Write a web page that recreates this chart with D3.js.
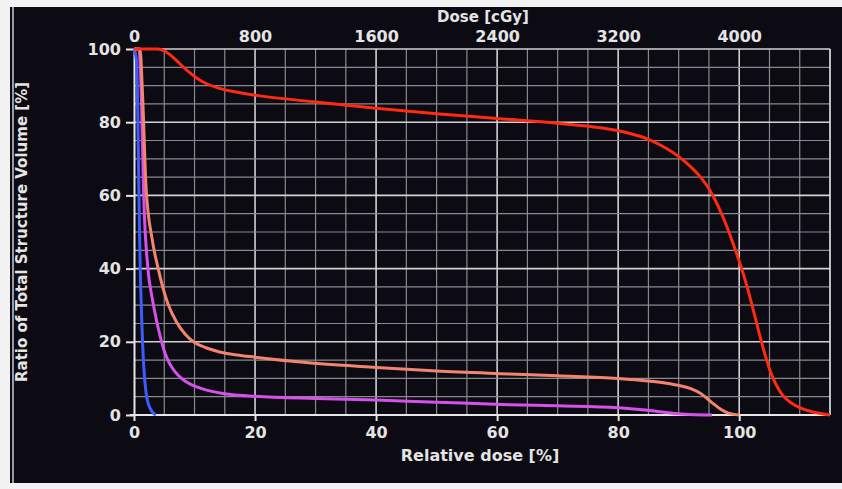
<!DOCTYPE html>
<html>
<head>
    <meta charset='utf-8'>
    <title>DVH</title>
    <script src='https://d3js.org/d3.v7.min.js'></script>
    <style>
        body { margin: 0; background: #f2f2f2; }
        text { font-family: 'DejaVu Sans', sans-serif; }
    </style>
</head>
<body>
    <script>
        // tick labels
        const relTicks = [0, 20, 40, 60, 80, 100];
        const doseTicks = [0, 800, 1600, 2400, 3200, 4000];
        const volTicks = [0, 20, 40, 60, 80, 100];

        // curves: [relative dose %, volume %]
        const redCurve = [[0, 100], [4, 100], [5, 99.5], [6, 98.4], [7, 96.9], [8, 95.3], [9, 93.8], [10, 92.5],
            [11, 91.4], [12, 90.5], [14, 89.3], [16, 88.5], [20, 87.4],
            [30, 85.5], [40, 83.8], [50, 82.3], [60, 81], [70, 79.7], [77, 78.5], [81, 77.3], [85, 75.3],
            [88, 72.8], [90, 70.6], [92, 67.8], [93.7, 64.8], [95, 61.8], [96, 58.8], [97, 55.3], [98, 51.3],
            [99, 46.8], [100, 42], [101, 36.8], [102, 30.8], [103, 24.3], [104, 18], [105, 12.6], [106, 8.6],
            [107, 5.8], [108.5, 3.4], [110, 2], [112, 0.9], [113.5, 0.4], [115, 0]];
        const salmonCurve = [[0, 100], [1, 100], [1.4, 88], [2, 62], [3, 48], [4, 40], [5, 33.5], [5.7, 30],
            [7, 25.5], [8.5, 22], [10, 19.8], [12, 18.3], [14, 17.3], [17, 16.4], [20, 15.8], [28, 14.4],
            [40, 13], [50, 12], [62, 11.2], [70, 10.7], [80, 10], [85, 9.3], [88, 8.7], [90, 8.1], [92, 7.2],
            [93.5, 6], [94.7, 4.5], [95.7, 3.1], [97, 1.5], [98.2, 0.5], [100, 0]];
        const magentaCurve = [[0, 100], [0.8, 100], [1.2, 88], [1.6, 60], [2.3, 40], [3, 32], [3.7, 26],
            [4.4, 21], [5.1, 17], [5.9, 14], [6.8, 11.8], [7.8, 10.1], [9, 8.7], [10.5, 7.6], [12, 6.8],
            [14, 6.1], [16, 5.6], [20, 5.1], [30, 4.5], [40, 4.1],
            [50, 3.5], [62, 2.8], [70, 2.5], [80, 2], [83, 1.6], [86, 1.1], [89, 0.5], [92, 0.15], [95.5, 0]];
        const blueCurve = [[0, 100], [0.4, 97], [0.6, 85], [0.8, 62], [1.0, 42], [1.3, 25], [1.6, 13.5],
            [2.0, 6], [2.6, 2], [3.6, 0]];

        const width = 842, height = 489;
        const margin = { left: 134, top: 49 };
        const plotW = 696, plotH = 366;

        const svg = d3.select('body')
            .append('svg')
            .attr('width', width)
            .attr('height', height)
            .style('display', 'block');

        // photo frame + dark screen
        svg.append('rect').attr('width', width).attr('height', height).attr('fill', '#f2f2f2');
        svg.append('rect')
            .attr('x', 10).attr('y', 7)
            .attr('width', width - 10).attr('height', 476)
            .attr('fill', '#0c0a12');
        svg.append('line')
            .attr('x1', 13).attr('x2', 13).attr('y1', 7).attr('y2', 483)
            .attr('stroke', '#9a9aa0').attr('stroke-width', 2);

        const x = d3.scaleLinear().domain([0, 115]).range([margin.left, margin.left + plotW]);
        const y = d3.scaleLinear().domain([0, 100]).range([margin.top + plotH, margin.top]);
        // dose axis: 4000 cGy = 100 %
        const xDose = d3.scaleLinear().domain([0, 4600]).range(x.range());

        const grid = svg.append('g');
        // grid every 5, brighter every 20
        grid.selectAll('.vgrid')
            .data(d3.range(5, 116, 5))
            .enter()
            .append('line')
            .attr('x1', d => x(d)).attr('x2', d => x(d))
            .attr('y1', y(0)).attr('y2', y(100))
            .attr('stroke', d => d % 20 === 0 ? '#d2d2d2' : '#8a8a8e')
            .attr('stroke-width', d => d % 20 === 0 ? 1.6 : 1.2);
        grid.selectAll('.hgrid')
            .data(d3.range(5, 101, 5))
            .enter()
            .append('line')
            .attr('x1', x(0)).attr('x2', x(115))
            .attr('y1', d => y(d)).attr('y2', d => y(d))
            .attr('stroke', d => d % 20 === 0 ? '#d2d2d2' : '#8a8a8e')
            .attr('stroke-width', d => d % 20 === 0 ? 1.6 : 1.2);
        // right frame
        grid.append('line')
            .attr('x1', x(115)).attr('x2', x(115)).attr('y1', y(0)).attr('y2', y(100))
            .attr('stroke', '#d8d8d8').attr('stroke-width', 1.6);

        // axes
        const styleAxis = function (g) {
            g.select('.domain').attr('stroke', '#e6e6e6').attr('stroke-width', 2);
            g.selectAll('.tick line').attr('stroke', '#e6e6e6').attr('stroke-width', 2);
            g.selectAll('.tick text')
                .attr('fill', '#e4e4e4')
                .attr('font-size', '16px')
                .attr('font-weight', 'bold')
                .attr('font-family', 'DejaVu Sans, sans-serif');
        };

        svg.append('g')
            .attr('transform', 'translate(' + x(0) + ',0)')
            .call(d3.axisLeft(y).tickValues(volTicks).tickSize(8).tickSizeOuter(0).tickPadding(5))
            .call(styleAxis);

        svg.append('g')
            .attr('transform', 'translate(0,' + y(0) + ')')
            .call(d3.axisBottom(x).tickValues(relTicks).tickSize(6).tickSizeOuter(0).tickPadding(6))
            .call(styleAxis)
            .call(g => g.select('.domain').remove());
        svg.append('line')
            .attr('x1', x(0) - 4).attr('x2', x(115))
            .attr('y1', y(0)).attr('y2', y(0))
            .attr('stroke', '#e6e6e6').attr('stroke-width', 2);

        svg.append('g')
            .attr('transform', 'translate(0,' + y(100) + ')')
            .call(d3.axisTop(xDose).tickValues(doseTicks).tickFormat(d3.format('d')).tickSize(0).tickPadding(7))
            .call(styleAxis)
            .call(g => g.select('.domain').remove());

        // axis titles
        svg.append('text')
            .attr('x', 483).attr('y', 22)
            .attr('text-anchor', 'middle')
            .attr('font-size', '15px').attr('font-weight', 'bold')
            .attr('fill', '#e4e4e4')
            .text('Dose [cGy]');
        svg.append('text')
            .attr('x', 480).attr('y', 461)
            .attr('text-anchor', 'middle')
            .attr('font-size', '16px').attr('font-weight', 'bold')
            .attr('fill', '#e4e4e4')
            .text('Relative dose [%]');
        svg.append('text')
            .attr('transform', 'translate(27,232) rotate(-90)')
            .attr('text-anchor', 'middle')
            .attr('font-size', '15px').attr('font-weight', 'bold')
            .attr('fill', '#e4e4e4')
            .text('Ratio of Total Structure Volume [%]');

        // DVH curves
        const line = d3.line()
            .x(d => x(d[0]))
            .y(d => y(d[1]))
            .curve(d3.curveMonotoneX);

        const curves = [
            { pts: blueCurve, color: '#3d5cff' },
            { pts: magentaCurve, color: '#d452ea' },
            { pts: salmonCurve, color: '#f4846f' },
            { pts: redCurve, color: '#ff2a12' }
        ];
        svg.selectAll('.dvh')
            .data(curves)
            .enter()
            .append('path')
            .attr('class', 'dvh')
            .attr('fill', 'none')
            .attr('stroke', d => d.color)
            .attr('stroke-width', 3)
            .attr('stroke-linejoin', 'round')
            .attr('d', d => line(d.pts));
    </script>
</body>
</html>
